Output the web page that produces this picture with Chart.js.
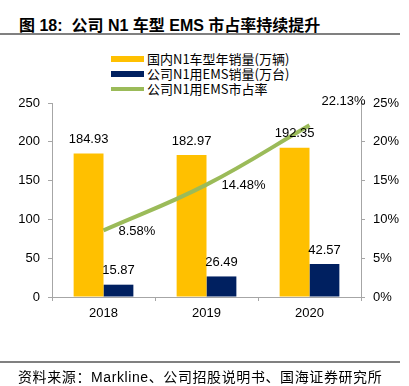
<!DOCTYPE html>
<html>
<head>
<meta charset="utf-8">
<script src="https://cdn.jsdelivr.net/npm/chart.js@4"></script>
<style>
  body { margin: 0; background: #fff; }
  #wrap { position: relative; width: 409px; height: 386px; overflow: hidden; font-family: "Liberation Sans", "Noto Sans CJK SC", sans-serif; }
  #chart { position: absolute; left: 0; top: 0; }
  .title { position: absolute; left: 19px; top: 12px; font-size: 16px; font-weight: bold; color: #000; white-space: nowrap; }
  .rule { position: absolute; left: 0; width: 400px; height: 2px; background: #808080; }
  .legend { position: absolute; left: 111px; font-size: 13px; color: #000; white-space: nowrap; font-family: "Noto Sans CJK SC", sans-serif; }
  .legend span { display: inline-block; width: 33px; height: 6px; vertical-align: middle; margin-right: 3px; position: relative; top: -1px; }
  .footer { position: absolute; left: 18px; top: 366px; font-size: 14px; letter-spacing: 0.6px; color: #000; white-space: nowrap; }
</style>
</head>
<body>
<div id="wrap">
  <div class="title">图 18:&nbsp;&nbsp;公司 N1 车型 EMS 市占率持续提升</div>
  <div class="rule" style="top:33px"></div>
  <div class="legend" style="top:49px"><span style="background:#FFC000"></span>国内N1车型年销量(万辆)</div>
  <div class="legend" style="top:64px"><span style="background:#002060"></span>公司N1用EMS销量(万台)</div>
  <div class="legend" style="top:79px"><span style="background:#9BBB59;height:4px"></span>公司N1用EMS市占率</div>
  <canvas id="chart" width="409" height="386"></canvas>
  <div class="rule" style="top:361px"></div>
  <div class="footer">资料来源：Markline、公司招股说明书、国海证券研究所</div>
</div>
<script>
const years = ['2018', '2019', '2020'];
const marketSales = [184.93, 182.97, 192.35];
const emsSales = [15.87, 26.49, 42.57];
const emsShare = [8.58, 14.48, 22.13];

const leftTicks = [0, 50, 100, 150, 200, 250];
const rightTicks = [0, 5, 10, 15, 20, 25];

const axisGray = '#A6A6A6';
const tickFont = { family: 'Liberation Sans, Arial, sans-serif', size: 13 };

// value labels drawn next to bars and line points
const valueLabels = {
    id: 'valueLabels',
    afterDatasetsDraw(chart) {
        const ctx = chart.ctx;
        ctx.save();
        ctx.font = '13px "Liberation Sans", Arial, sans-serif';
        ctx.fillStyle = '#000';
        chart.data.datasets.forEach((ds, i) => {
            const meta = chart.getDatasetMeta(i);
            meta.data.forEach((el, j) => {
                const v = ds.data[j];
                if (ds.type === 'line') {
                    ctx.textAlign = 'left';
                    ctx.textBaseline = 'middle';
                    if (j === ds.data.length - 1) {
                        ctx.fillText(v.toFixed(2) + '%', el.x + 12, el.y - 24);
                    } else {
                        ctx.fillText(v.toFixed(2) + '%', el.x + 15, el.y + 1);
                    }
                } else {
                    ctx.textAlign = 'center';
                    ctx.textBaseline = 'middle';
                    ctx.fillText(v.toFixed(2), el.x, el.y - 14);
                }
            });
        });
        ctx.restore();
    }
};

new Chart(document.getElementById('chart'), {
    data: {
        labels: years,
        datasets: [
            {
                type: 'line',
                data: emsShare,
                yAxisID: 'y1',
                borderColor: '#9BBB59',
                borderWidth: 4,
                pointRadius: 0,
                tension: 0.4,
                order: 0
            },
            {
                type: 'bar',
                data: marketSales,
                yAxisID: 'y',
                backgroundColor: '#FFC000',
                categoryPercentage: 0.58,
                barPercentage: 1,
                order: 1
            },
            {
                type: 'bar',
                data: emsSales,
                yAxisID: 'y',
                backgroundColor: '#002060',
                categoryPercentage: 0.58,
                barPercentage: 1,
                order: 1
            }
        ]
    },
    options: {
        responsive: false,
        animation: false,
        layout: { padding: { top: 103, left: 0, right: 0, bottom: 0 } },
        plugins: {
            legend: { display: false },
            tooltip: { enabled: false }
        },
        scales: {
            x: {
                offset: true,
                grid: { offset: true, drawOnChartArea: false, color: axisGray, tickLength: 4 },
                border: { color: axisGray, width: 1 },
                ticks: { color: '#000', font: tickFont, padding: 5 },
                afterFit(s) { s.height = 89; }
            },
            y: {
                position: 'left',
                min: 0,
                max: 250,
                afterBuildTicks(s) { s.ticks = leftTicks.map(v => ({ value: v })); },
                grid: { drawOnChartArea: false, color: axisGray, tickLength: 4 },
                border: { color: axisGray, width: 1 },
                ticks: { color: '#000', font: tickFont, padding: 8 },
                afterFit(s) { s.width = 52; }
            },
            y1: {
                position: 'right',
                min: 0,
                max: 25,
                afterBuildTicks(s) { s.ticks = rightTicks.map(v => ({ value: v })); },
                grid: { drawOnChartArea: false, color: axisGray, tickLength: 4 },
                border: { color: axisGray, width: 1 },
                ticks: { color: '#000', font: tickFont, padding: 8, callback: v => v + '%' },
                afterFit(s) { s.width = 48; }
            }
        }
    },
    plugins: [valueLabels]
});
</script>
</body>
</html>
